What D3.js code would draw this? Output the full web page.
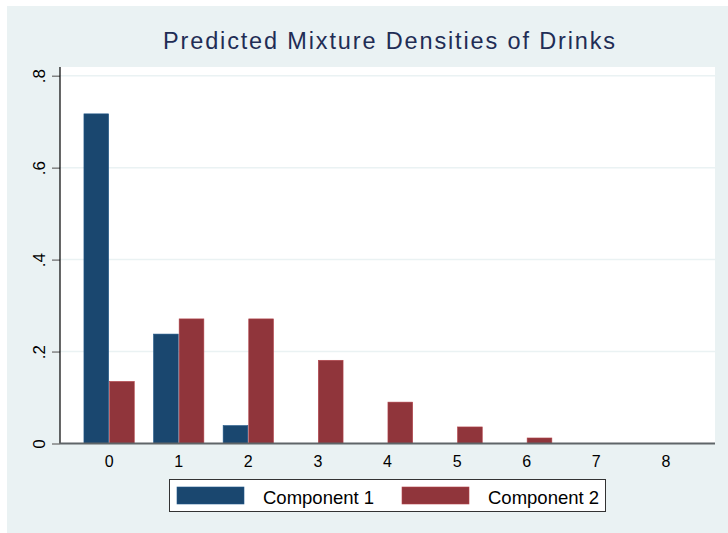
<!DOCTYPE html>
<html>
<head>
<meta charset="utf-8">
<script src="https://cdn.jsdelivr.net/npm/d3@7"></script>
<style>
  body { margin: 0; background: #fff; }
  svg { display: block; font-family: "Liberation Sans", Arial, sans-serif; }
</style>
</head>
<body>
<svg width="728" height="533"></svg>
<script>
// drinks per occasion and predicted densities of each mixture component
var categories = [0, 1, 2, 3, 4, 5, 6, 7, 8];
var component1 = [0.717, 0.238, 0.039, 0, 0, 0, 0, 0, 0];
var component2 = [0.135, 0.271, 0.271, 0.181, 0.090, 0.036, 0.012, 0, 0];
var seriesNames = ["Component 1", "Component 2"];
var yTicks = [0, 0.2, 0.4, 0.6, 0.8];
var yTickLabels = ["0", ".2", ".4", ".6", ".8"];

var colors = ["#1a476f", "#90353b"];

var svg = d3.select("svg");

// outer background (white rim on top and left like the original export)
svg.append("rect").attr("x", 7).attr("y", 6).attr("width", 721).attr("height", 527)
    .attr("fill", "#eaf2f3");

var plot = {left: 60, right: 715, top: 67, bottom: 443.5};

svg.append("rect")
    .attr("x", plot.left).attr("y", plot.top)
    .attr("width", plot.right - plot.left).attr("height", plot.bottom - plot.top)
    .attr("fill", "#fff");

var y = d3.scaleLinear().domain([0, 0.8]).range([plot.bottom, 75.7]);

var x = d3.scaleBand()
    .domain(categories)
    .range([plot.left, plot.right])
    .paddingInner(0.277)
    .paddingOuter(0.344);

var xSub = d3.scaleBand()
    .domain([0, 1])
    .range([0, x.bandwidth()])
    .paddingInner(0.035);

// gridlines
svg.append("g").selectAll("line")
    .data(yTicks.slice(1))
    .enter().append("line")
        .attr("x1", plot.left).attr("x2", plot.right)
        .attr("y1", function(d) { return y(d); })
        .attr("y2", function(d) { return y(d); })
        .attr("stroke", "#eaf2f3")
        .attr("stroke-width", 1.5);

// bars
var rows = categories.map(function(c, i) {
    return {cat: c, values: [component1[i], component2[i]]};
});

var group = svg.append("g").selectAll("g")
    .data(rows)
    .enter().append("g")
        .attr("transform", function(d) { return "translate(" + x(d.cat) + ",0)"; });

group.selectAll("rect")
    .data(function(d) {
        return d.values.map(function(v, j) { return {s: j, v: v}; })
            .filter(function(e) { return e.v > 0; });
    })
    .enter().append("rect")
        .attr("x", function(d) { return xSub(d.s); })
        .attr("width", xSub.bandwidth())
        .attr("y", function(d) { return y(d.v); })
        .attr("height", function(d) { return y(0) - y(d.v); })
        .attr("fill", function(d) { return colors[d.s]; })
        .attr("stroke", function(d) { return d3.color(colors[d.s]).brighter(0.6); })
        .attr("stroke-width", 0.6);

// y axis
var yAxis = svg.append("g")
    .attr("transform", "translate(" + plot.left + ",0)")
    .call(d3.axisLeft(y).tickValues(yTicks)
        .tickFormat(function(d, i) { return yTickLabels[i]; })
        .tickSize(8).tickPadding(0));
yAxis.select(".domain").remove();
yAxis.selectAll(".tick line").attr("stroke", "#666").attr("stroke-width", 1.2);
yAxis.selectAll(".tick text").remove();
yAxis.selectAll(".tick").append("text")
    .attr("transform", "translate(-21,0) rotate(-90)")
    .attr("text-anchor", "middle")
    .attr("dy", "0.35em")
    .attr("fill", "#000")
    .style("font-size", "17px")
    .text(function(d, i) { return yTickLabels[i]; });
svg.append("line")
    .attr("x1", plot.left).attr("x2", plot.left)
    .attr("y1", plot.top).attr("y2", plot.bottom)
    .attr("stroke", "#000").attr("stroke-width", 1.2);

// x axis
var xAxis = svg.append("g")
    .attr("transform", "translate(0," + plot.bottom + ")")
    .call(d3.axisBottom(x).tickSize(0).tickPadding(12));
xAxis.select(".domain").remove();
xAxis.selectAll(".tick text")
    .attr("fill", "#000")
    .style("font-size", "16px");
svg.append("line")
    .attr("x1", plot.left).attr("x2", plot.right)
    .attr("y1", plot.bottom).attr("y2", plot.bottom)
    .attr("stroke", "#5f6568").attr("stroke-width", 2);

// title
svg.append("text")
    .attr("x", 163).attr("y", 48.5)
    .attr("fill", "#1f2d55")
    .attr("textLength", 452)
    .attr("lengthAdjust", "spacing")
    .style("font-size", "23.5px")
    .text("Predicted Mixture Densities of Drinks");

// legend
var legend = svg.append("g");
legend.append("rect")
    .attr("x", 169.5).attr("y", 479.5).attr("width", 436).attr("height", 32)
    .attr("fill", "#fff").attr("stroke", "#333").attr("stroke-width", 1);

var legendX = [177, 402];
var item = legend.selectAll("g")
    .data(seriesNames)
    .enter().append("g")
        .attr("transform", function(d, i) { return "translate(" + legendX[i] + ",487)"; });
item.append("rect")
    .attr("width", 67).attr("height", 17)
    .attr("fill", function(d, i) { return colors[i]; })
    .attr("stroke", function(d, i) { return d3.color(colors[i]).brighter(0.6); })
    .attr("stroke-width", 0.6);
item.append("text")
    .attr("x", 86).attr("y", 17)
    .attr("fill", "#000")
    .style("font-size", "18.5px")
    .text(function(d) { return d; });
</script>
</body>
</html>
